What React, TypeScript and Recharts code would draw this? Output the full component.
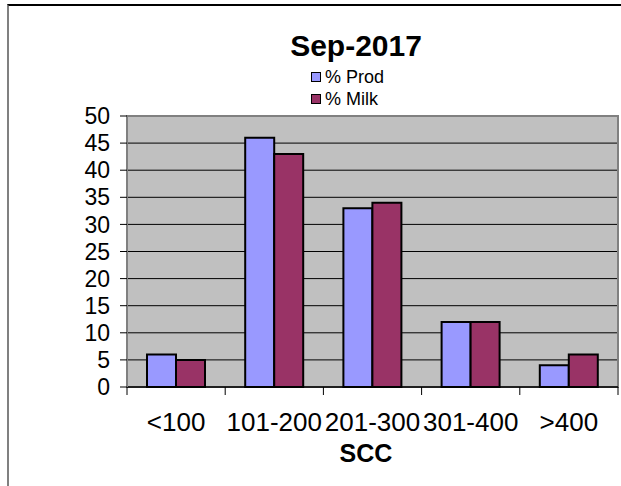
import { Bar, BarChart, CartesianGrid, ReferenceArea, XAxis, YAxis } from "recharts";

const categories = ["<100", "101-200", "201-300", "301-400", ">400"];
const prodValues = [6, 46, 33, 12, 4];
const milkValues = [5, 43, 34, 12, 6];
const yTicks = [0, 5, 10, 15, 20, 25, 30, 35, 40, 45, 50];

const series = [
  { key: "prod", name: "% Prod", color: "#9999ff" },
  { key: "milk", name: "% Milk", color: "#993366" },
];

const data = categories.map((scc, i) => ({ scc, prod: prodValues[i], milk: milkValues[i] }));

const W = 621;
const H = 486;
const xAxisHeight = 30;
const margin = { top: 116, right: 3, bottom: 99 - xAxisHeight, left: 0 };
const yAxisWidth = 127;
const font = "'Liberation Sans', Arial, sans-serif";

const band = (W - margin.left - margin.right - yAxisWidth) / categories.length;

function SccTick(props: any) {
  const { x, y, payload, index } = props;
  const left = x - band / 2;
  return (
    <g>
      <line x1={left} y1={y} x2={left} y2={y + 8} stroke="#000" strokeWidth={1} />
      {index === categories.length - 1 && (
        <line x1={x + band / 2} y1={y} x2={x + band / 2} y2={y + 8} stroke="#000" strokeWidth={1} />
      )}
      <text x={x} y={y + 44} textAnchor="middle" fontSize={26} fontFamily={font} fill="#000">
        {payload.value}
      </text>
    </g>
  );
}

function LegendBox() {
  return (
    <div style={{ fontFamily: font, fontSize: 18, lineHeight: "22px", color: "#000" }}>
      {series.map((s) => (
        <div key={s.key} style={{ display: "flex", alignItems: "center" }}>
          <span
            style={{
              display: "inline-block",
              width: 8,
              height: 8,
              background: s.color,
              border: "1.5px solid #000",
              marginRight: 4,
            }}
          />
          {s.name}
        </div>
      ))}
    </div>
  );
}

export default function App() {
  return (
    <div style={{ position: "absolute", left: 0, top: 0, width: W, height: H, background: "#fff" }}>
      <div
        style={{
          position: "absolute",
          left: 7,
          top: 4,
          right: 0,
          bottom: 0,
          borderTop: "2px solid #000",
          borderLeft: "2px solid #808080",
        }}
      />
      <div
        style={{
          position: "absolute",
          left: 206,
          width: 300,
          top: 28,
          textAlign: "center",
          fontFamily: font,
          fontWeight: "bold",
          fontSize: 30,
          lineHeight: "36px",
        }}
      >
        Sep-2017
      </div>
      <div style={{ position: "absolute", left: 311, top: 66 }}>
        <LegendBox />
      </div>
      <div
        style={{
          position: "absolute",
          left: 216,
          width: 300,
          top: 438,
          textAlign: "center",
          fontFamily: font,
          fontWeight: "bold",
          fontSize: 25,
          lineHeight: "30px",
        }}
      >
        SCC
      </div>
      <BarChart width={W} height={H} data={data} margin={margin} barCategoryGap={20} barGap={0}>
        <CartesianGrid vertical={false} stroke="#000" strokeOpacity={1} fill="#c0c0c0" fillOpacity={1} />
        <ReferenceArea y1={0} y2={50} fill="none" stroke="#808080" strokeWidth={2} />
        <XAxis
          dataKey="scc"
          height={xAxisHeight}
          axisLine={{ stroke: "#000", strokeWidth: 1.5 }}
          tickLine={false}
          tickSize={0}
          tickMargin={0}
          interval={0}
          tick={<SccTick />}
        />
        <YAxis
          width={yAxisWidth}
          domain={[0, 50]}
          ticks={yTicks}
          interval={0}
          axisLine={{ stroke: "#808080", strokeWidth: 2 }}
          tickLine={{ stroke: "#000" }}
          tickSize={7}
          tickMargin={10}
          tick={{ fontSize: 23, fontFamily: font, fill: "#000" }}
        />
        {series.map((s) => (
          <Bar
            key={s.key}
            dataKey={s.key}
            name={s.name}
            fill={s.color}
            stroke="#000"
            strokeWidth={2}
            isAnimationActive={false}
          />
        ))}
      </BarChart>
    </div>
  );
}
